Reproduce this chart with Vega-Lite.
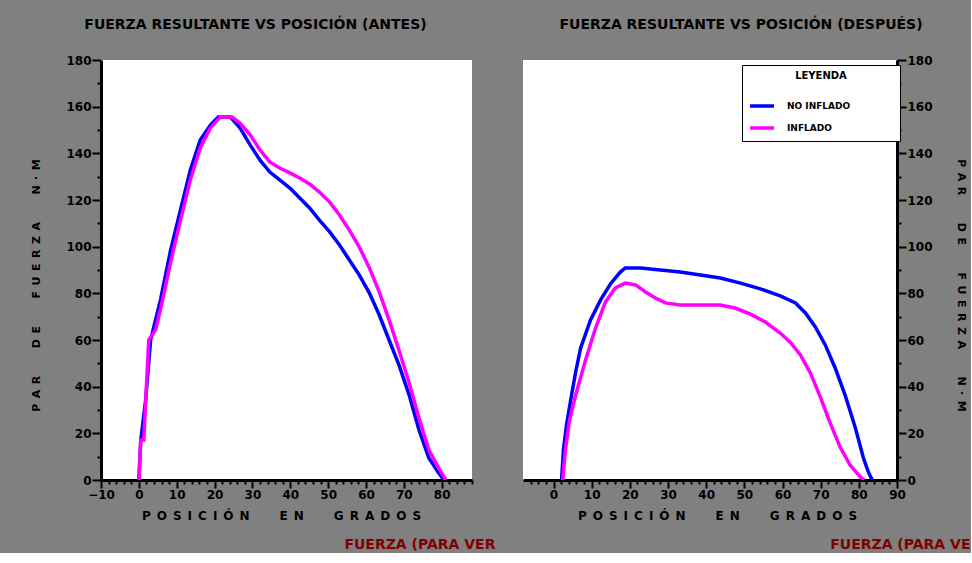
{
  "$schema": "https://vega.github.io/schema/vega-lite/v6.json",
  "background": "#808080",
  "padding": {"left": 30, "top": 18, "right": 0, "bottom": 0},
  "spacing": 51,
  "bounds": "flush",
  "config": {
    "view": {"fill": "white", "stroke": null},
    "font": "DejaVu Sans",
    "title": {"font": "DejaVu Sans", "fontSize": 14, "fontWeight": "bold", "color": "black", "offset": 22},
    "axis": {
      "grid": false,
      "domainColor": "black", "domainWidth": 3,
      "tickColor": "black", "tickWidth": 2,
      "labelFont": "DejaVu Sans", "labelFontSize": 12, "labelFontWeight": "bold", "labelColor": "black",
      "labelOverlap": false, "labelFlush": false, "labelPadding": 1,
      "titleFont": "DejaVu Sans", "titleFontSize": 12, "titleFontWeight": "bold", "titleColor": "black"
    },
    "line": {"strokeWidth": 3.5}
  },
  "datasets": {
    "izq": [
      {"pos": 0, "par": 0, "serie": "NO INFLADO"},
      {"pos": 0.5, "par": 17.1, "serie": "NO INFLADO"},
      {"pos": 1.8, "par": 34.3, "serie": "NO INFLADO"},
      {"pos": 3.1, "par": 60, "serie": "NO INFLADO"},
      {"pos": 4.4, "par": 68.6, "serie": "NO INFLADO"},
      {"pos": 5.7, "par": 77.1, "serie": "NO INFLADO"},
      {"pos": 8.4, "par": 98.6, "serie": "NO INFLADO"},
      {"pos": 11.0, "par": 115.7, "serie": "NO INFLADO"},
      {"pos": 13.6, "par": 132.9, "serie": "NO INFLADO"},
      {"pos": 16.2, "par": 145.7, "serie": "NO INFLADO"},
      {"pos": 18.9, "par": 152.1, "serie": "NO INFLADO"},
      {"pos": 21.0, "par": 155.6, "serie": "NO INFLADO"},
      {"pos": 24.1, "par": 155.6, "serie": "NO INFLADO"},
      {"pos": 26.7, "par": 150.9, "serie": "NO INFLADO"},
      {"pos": 29.4, "par": 143.6, "serie": "NO INFLADO"},
      {"pos": 32.0, "par": 137.1, "serie": "NO INFLADO"},
      {"pos": 34.6, "par": 132.0, "serie": "NO INFLADO"},
      {"pos": 37.2, "par": 128.6, "serie": "NO INFLADO"},
      {"pos": 39.9, "par": 125.1, "serie": "NO INFLADO"},
      {"pos": 42.5, "par": 120.9, "serie": "NO INFLADO"},
      {"pos": 45.1, "par": 116.6, "serie": "NO INFLADO"},
      {"pos": 47.7, "par": 111.4, "serie": "NO INFLADO"},
      {"pos": 50.4, "par": 106.3, "serie": "NO INFLADO"},
      {"pos": 53.0, "par": 100.7, "serie": "NO INFLADO"},
      {"pos": 55.6, "par": 94.3, "serie": "NO INFLADO"},
      {"pos": 58.2, "par": 87.9, "serie": "NO INFLADO"},
      {"pos": 60.9, "par": 80.1, "serie": "NO INFLADO"},
      {"pos": 63.5, "par": 70.7, "serie": "NO INFLADO"},
      {"pos": 66.1, "par": 60.0, "serie": "NO INFLADO"},
      {"pos": 68.7, "par": 49.3, "serie": "NO INFLADO"},
      {"pos": 71.4, "par": 36.4, "serie": "NO INFLADO"},
      {"pos": 74.0, "par": 21.4, "serie": "NO INFLADO"},
      {"pos": 76.6, "par": 9.4, "serie": "NO INFLADO"},
      {"pos": 79.2, "par": 3.0, "serie": "NO INFLADO"},
      {"pos": 80.6, "par": 0, "serie": "NO INFLADO"},
      {"pos": 0, "par": 0, "serie": "INFLADO"},
      {"pos": 0.2, "par": 6.4, "serie": "INFLADO"},
      {"pos": 0.5, "par": 17.1, "serie": "INFLADO"},
      {"pos": 1.3, "par": 17.1, "serie": "INFLADO"},
      {"pos": 2.6, "par": 60, "serie": "INFLADO"},
      {"pos": 4.4, "par": 64.3, "serie": "INFLADO"},
      {"pos": 5.7, "par": 72.9, "serie": "INFLADO"},
      {"pos": 8.4, "par": 93.4, "serie": "INFLADO"},
      {"pos": 11.0, "par": 111.4, "serie": "INFLADO"},
      {"pos": 13.6, "par": 128.6, "serie": "INFLADO"},
      {"pos": 16.2, "par": 142.3, "serie": "INFLADO"},
      {"pos": 18.9, "par": 150.9, "serie": "INFLADO"},
      {"pos": 21.5, "par": 155.6, "serie": "INFLADO"},
      {"pos": 24.6, "par": 155.6, "serie": "INFLADO"},
      {"pos": 26.7, "par": 153.0, "serie": "INFLADO"},
      {"pos": 29.4, "par": 147.9, "serie": "INFLADO"},
      {"pos": 32.0, "par": 141.4, "serie": "INFLADO"},
      {"pos": 34.6, "par": 136.3, "serie": "INFLADO"},
      {"pos": 37.2, "par": 133.7, "serie": "INFLADO"},
      {"pos": 39.9, "par": 131.6, "serie": "INFLADO"},
      {"pos": 42.5, "par": 129.4, "serie": "INFLADO"},
      {"pos": 45.1, "par": 126.9, "serie": "INFLADO"},
      {"pos": 47.7, "par": 123.4, "serie": "INFLADO"},
      {"pos": 50.4, "par": 119.1, "serie": "INFLADO"},
      {"pos": 53.0, "par": 113.6, "serie": "INFLADO"},
      {"pos": 55.6, "par": 107.1, "serie": "INFLADO"},
      {"pos": 58.2, "par": 99.9, "serie": "INFLADO"},
      {"pos": 60.9, "par": 90.9, "serie": "INFLADO"},
      {"pos": 63.5, "par": 80.6, "serie": "INFLADO"},
      {"pos": 66.1, "par": 68.6, "serie": "INFLADO"},
      {"pos": 68.7, "par": 55.7, "serie": "INFLADO"},
      {"pos": 71.4, "par": 41.6, "serie": "INFLADO"},
      {"pos": 74.0, "par": 26.6, "serie": "INFLADO"},
      {"pos": 76.6, "par": 12.9, "serie": "INFLADO"},
      {"pos": 79.2, "par": 5.1, "serie": "INFLADO"},
      {"pos": 81.1, "par": 0, "serie": "INFLADO"}
    ],
    "der": [
      {"pos": 2.1, "par": 0, "serie": "NO INFLADO"},
      {"pos": 2.6, "par": 12.9, "serie": "NO INFLADO"},
      {"pos": 3.4, "par": 23.6, "serie": "NO INFLADO"},
      {"pos": 4.5, "par": 34.3, "serie": "NO INFLADO"},
      {"pos": 5.8, "par": 46.3, "serie": "NO INFLADO"},
      {"pos": 7.1, "par": 56.6, "serie": "NO INFLADO"},
      {"pos": 9.7, "par": 68.6, "serie": "NO INFLADO"},
      {"pos": 12.3, "par": 77.1, "serie": "NO INFLADO"},
      {"pos": 14.9, "par": 84.0, "serie": "NO INFLADO"},
      {"pos": 17.5, "par": 89.1, "serie": "NO INFLADO"},
      {"pos": 18.8, "par": 90.9, "serie": "NO INFLADO"},
      {"pos": 22.8, "par": 90.9, "serie": "NO INFLADO"},
      {"pos": 28.0, "par": 90.0, "serie": "NO INFLADO"},
      {"pos": 33.2, "par": 89.1, "serie": "NO INFLADO"},
      {"pos": 38.5, "par": 87.9, "serie": "NO INFLADO"},
      {"pos": 43.7, "par": 86.6, "serie": "NO INFLADO"},
      {"pos": 49.0, "par": 84.4, "serie": "NO INFLADO"},
      {"pos": 54.2, "par": 81.9, "serie": "NO INFLADO"},
      {"pos": 59.4, "par": 78.9, "serie": "NO INFLADO"},
      {"pos": 63.4, "par": 75.9, "serie": "NO INFLADO"},
      {"pos": 66.0, "par": 71.6, "serie": "NO INFLADO"},
      {"pos": 68.6, "par": 65.6, "serie": "NO INFLADO"},
      {"pos": 71.2, "par": 57.9, "serie": "NO INFLADO"},
      {"pos": 73.8, "par": 48.0, "serie": "NO INFLADO"},
      {"pos": 76.4, "par": 36.4, "serie": "NO INFLADO"},
      {"pos": 79.1, "par": 22.3, "serie": "NO INFLADO"},
      {"pos": 81.2, "par": 9.4, "serie": "NO INFLADO"},
      {"pos": 82.5, "par": 3.4, "serie": "NO INFLADO"},
      {"pos": 83.5, "par": 0, "serie": "NO INFLADO"},
      {"pos": 2.4, "par": 0, "serie": "INFLADO"},
      {"pos": 3.1, "par": 12.9, "serie": "INFLADO"},
      {"pos": 4.2, "par": 25.7, "serie": "INFLADO"},
      {"pos": 5.8, "par": 36.4, "serie": "INFLADO"},
      {"pos": 8.4, "par": 51.4, "serie": "INFLADO"},
      {"pos": 11.0, "par": 65.1, "serie": "INFLADO"},
      {"pos": 13.6, "par": 76.3, "serie": "INFLADO"},
      {"pos": 16.2, "par": 82.3, "serie": "INFLADO"},
      {"pos": 18.8, "par": 84.4, "serie": "INFLADO"},
      {"pos": 21.5, "par": 83.6, "serie": "INFLADO"},
      {"pos": 24.1, "par": 80.6, "serie": "INFLADO"},
      {"pos": 26.7, "par": 78.0, "serie": "INFLADO"},
      {"pos": 29.3, "par": 75.9, "serie": "INFLADO"},
      {"pos": 33.2, "par": 75.0, "serie": "INFLADO"},
      {"pos": 38.5, "par": 75.0, "serie": "INFLADO"},
      {"pos": 43.7, "par": 75.0, "serie": "INFLADO"},
      {"pos": 47.6, "par": 73.7, "serie": "INFLADO"},
      {"pos": 51.6, "par": 71.1, "serie": "INFLADO"},
      {"pos": 55.5, "par": 67.7, "serie": "INFLADO"},
      {"pos": 59.4, "par": 63.0, "serie": "INFLADO"},
      {"pos": 62.0, "par": 59.1, "serie": "INFLADO"},
      {"pos": 64.7, "par": 53.6, "serie": "INFLADO"},
      {"pos": 67.3, "par": 45.9, "serie": "INFLADO"},
      {"pos": 69.9, "par": 35.6, "serie": "INFLADO"},
      {"pos": 72.5, "par": 24.4, "serie": "INFLADO"},
      {"pos": 75.1, "par": 14.1, "serie": "INFLADO"},
      {"pos": 77.7, "par": 6.4, "serie": "INFLADO"},
      {"pos": 80.4, "par": 1.3, "serie": "INFLADO"},
      {"pos": 81.4, "par": 0, "serie": "INFLADO"}
    ],
    "notaIzq": [{"pos": 54.3, "par": -28, "t": "FUERZA (PARA VER"}],
    "notaDer": [{"pos": 72.5, "par": -28, "t": "FUERZA (PARA VE"}]
  },
  "resolve": {"scale": {"color": "independent"}, "legend": {"color": "independent"}},
  "hconcat": [
    {
      "width": 371,
      "height": 420,
      "title": {"text": "FUERZA RESULTANTE VS POSICIÓN (ANTES)", "dx": -31},
      "resolve": {"axis": {"x": "independent", "y": "independent"}},
      "layer": [
        {
          "data": {"name": "izq"},
          "mark": {"type": "line", "clip": true},
          "encoding": {
            "x": {
              "field": "pos", "type": "quantitative",
              "scale": {"domain": [-10, 88], "nice": false, "zero": false},
              "axis": {
                "title": "P\u2002O\u2002S\u2002I\u2002C\u2002I\u2002Ó\u2002N\u2003\u2002\u2003E\u2002N\u2003\u2002\u2003G\u2002R\u2002A\u2002D\u2002O\u2002S",
                "titlePadding": 10, "titleX": 180,
                "values": [-10, 0, 10, 20, 30, 40, 50, 60, 70, 80],
                "tickSize": 8
              }
            },
            "y": {
              "field": "par", "type": "quantitative",
              "scale": {"domain": [0, 180], "nice": false},
              "axis": {
                "title": "P\u2002A\u2002R\u2003\u2002\u2003D\u2002E\u2003\u2002\u2003F\u2002U\u2002E\u2002R\u2002Z\u2002A\u2003\u2002\u2003N\u2002·\u2002M",
                "titleFontSize": 11,
                "titlePadding": 24,
                "titleY": 225,
                "values": [0, 20, 40, 60, 80, 100, 120, 140, 160, 180],
                "tickSize": 9
              }
            },
            "color": {
              "field": "serie", "type": "nominal",
              "scale": {"domain": ["NO INFLADO", "INFLADO"], "range": ["#0000ff", "#ff00ff"]},
              "legend": null
            },
            "strokeWidth": {
              "field": "serie", "type": "nominal",
              "scale": {"domain": ["NO INFLADO", "INFLADO"], "range": [4, 3]},
              "legend": null
            }
          }
        },
        {
          "data": {"name": "notaIzq"},
          "mark": {"type": "text", "align": "left", "baseline": "middle", "color": "#800000", "fontWeight": "bold", "fontSize": 14, "font": "DejaVu Sans"},
          "encoding": {
            "x": {
              "field": "pos", "type": "quantitative",
              "axis": {"orient": "bottom", "title": null, "labels": false, "domain": false, "tickSize": 4,
                "values": [-8,-6,-4,-2,2,4,6,8,12,14,16,18,22,24,26,28,32,34,36,38,42,44,46,48,52,54,56,58,62,64,66,68,72,74,76,78,82,84,86,88]}
            },
            "y": {
              "field": "par", "type": "quantitative",
              "axis": {"orient": "left", "title": null, "labels": false, "domain": false, "tickSize": 4,
                "values": [10, 30, 50, 70, 90, 110, 130, 150, 170]}
            },
            "text": {"field": "t"}
          }
        }
      ]
    },
    {
      "width": 374,
      "height": 420,
      "title": {"text": "FUERZA RESULTANTE VS POSICIÓN (DESPUÉS)", "dx": 31},
      "resolve": {"axis": {"x": "independent", "y": "independent"}},
      "layer": [
        {
          "data": {"name": "der"},
          "mark": {"type": "line", "clip": true},
          "encoding": {
            "x": {
              "field": "pos", "type": "quantitative",
              "scale": {"domain": [-8, 90], "nice": false, "zero": false},
              "axis": {
                "title": "P\u2002O\u2002S\u2002I\u2002C\u2002I\u2002Ó\u2002N\u2003\u2002\u2003E\u2002N\u2003\u2002\u2003G\u2002R\u2002A\u2002D\u2002O\u2002S",
                "titlePadding": 10, "titleX": 194,
                "values": [0, 10, 20, 30, 40, 50, 60, 70, 80, 90],
                "tickSize": 8
              }
            },
            "y": {
              "field": "par", "type": "quantitative",
              "scale": {"domain": [0, 180], "nice": false},
              "axis": {
                "orient": "right",
                "title": "P\u2002A\u2002R\u2003\u2002\u2003D\u2002E\u2003\u2002\u2003F\u2002U\u2002E\u2002R\u2002Z\u2002A\u2003\u2002\u2003N\u2002·\u2002M",
                "titleFontSize": 11,
                "titlePadding": 23,
                "titleY": 225,
                "values": [0, 20, 40, 60, 80, 100, 120, 140, 160, 180],
                "tickSize": 9
              }
            },
            "color": {
              "field": "serie", "type": "nominal",
              "scale": {"domain": ["NO INFLADO", "INFLADO"], "range": ["#0000ff", "#ff00ff"]},
              "legend": {
                "orient": "none", "legendX": 219, "legendY": 5,
                "title": "LEYENDA", "titleAnchor": "middle", "titleFont": "DejaVu Sans", "titleFontSize": 10, "titleFontWeight": "bold", "titleColor": "black", "titlePadding": 11,
                "fillColor": "white", "strokeColor": "black", "padding": 6,
                "symbolType": "stroke", "symbolSize": 576, "symbolStrokeWidth": 4,
                "labelFont": "DejaVu Sans", "labelFontSize": 9, "labelFontWeight": "bold", "labelColor": "black", "labelOffset": 11,
                "labelLimit": 300,
                "labelExpr": "datum.label + '\u2003\u2003\u2003\u2003\u2800'",
                "rowPadding": 1
              }
            },
            "strokeWidth": {
              "field": "serie", "type": "nominal",
              "scale": {"domain": ["NO INFLADO", "INFLADO"], "range": [4, 3]},
              "legend": null
            }
          }
        },
        {
          "data": {"name": "notaDer"},
          "mark": {"type": "text", "align": "left", "baseline": "middle", "color": "#800000", "fontWeight": "bold", "fontSize": 14, "font": "DejaVu Sans"},
          "encoding": {
            "x": {
              "field": "pos", "type": "quantitative",
              "axis": {"orient": "bottom", "title": null, "labels": false, "domain": false, "tickSize": 4,
                "values": [-6,-4,-2,2,4,6,8,12,14,16,18,22,24,26,28,32,34,36,38,42,44,46,48,52,54,56,58,62,64,66,68,72,74,76,78,82,84,86,88]}
            },
            "y": {
              "field": "par", "type": "quantitative",
              "axis": {"orient": "right", "title": null, "labels": false, "domain": false, "tickSize": 4,
                "values": [10, 30, 50, 70, 90, 110, 130, 150, 170]}
            },
            "text": {"field": "t"}
          }
        }
      ]
    }
  ]
}
